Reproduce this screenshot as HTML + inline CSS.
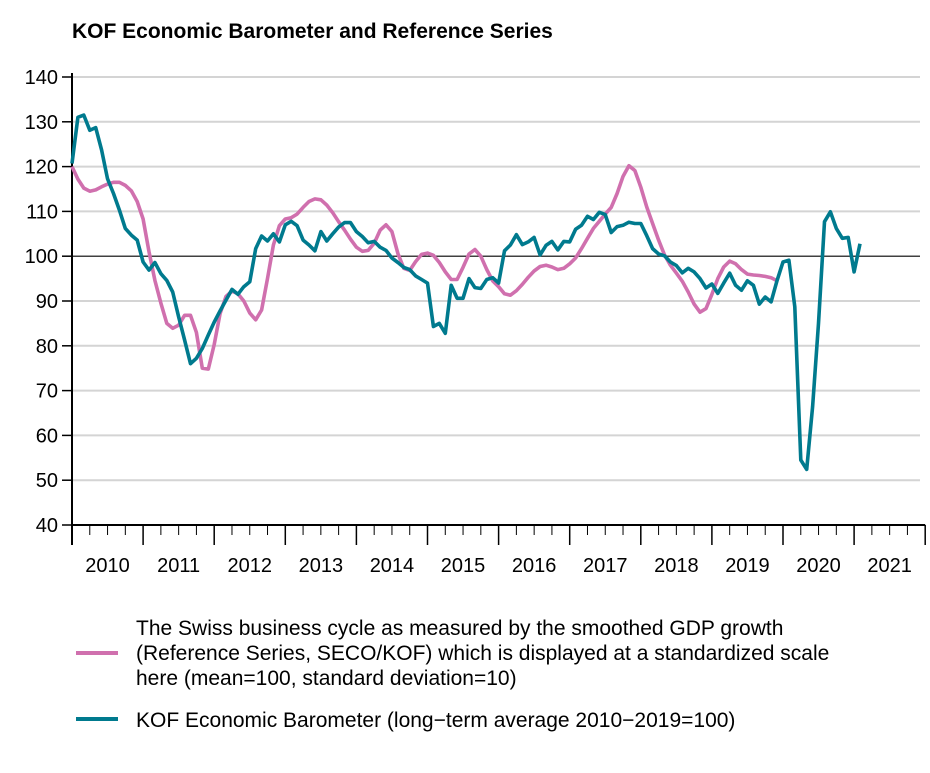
<!DOCTYPE html>
<html><head><meta charset="utf-8"><style>
body{margin:0;background:#fff;}
svg text{font-family:"Liberation Sans",Arial,sans-serif;fill:#000;}
</style></head><body>
<svg id="chart" width="930" height="768" xmlns="http://www.w3.org/2000/svg">
<text x="72" y="38" font-size="21" font-weight="bold">KOF Economic Barometer and Reference Series</text>
<g id="grid"></g>
<g id="axes"></g>
<g id="series"></g>
<g>
<line x1="76" y1="653" x2="118" y2="653" stroke="#d070ae" stroke-width="4"/>
<text font-size="21" x="136" y="635">The Swiss business cycle as measured by the smoothed GDP growth</text>
<text font-size="21" x="136" y="660">(Reference Series, SECO/KOF) which is displayed at a standardized scale</text>
<text font-size="21" x="136" y="685">here (mean=100, standard deviation=10)</text>
<line x1="76" y1="719" x2="118" y2="719" stroke="#007a8e" stroke-width="4"/>
<text font-size="21" x="136" y="727">KOF Economic Barometer (long−term average 2010−2019=100)</text>
</g>
</svg>
<script>
const years=[2010,2011,2012,2013,2014,2015,2016,2017,2018,2019,2020,2021];
const yTicks=[40,50,60,70,80,90,100,110,120,130,140];
const barometer=[120.7,131,131.5,128.1,128.7,123.7,117.3,114,110.3,106.2,104.7,103.6,
98.7,96.9,98.6,96.1,94.6,92,86.5,81.3,76,77.2,79.4,82.4,
85.3,87.8,90.2,92.6,91.5,93.2,94.3,101.7,104.5,103.4,105,103.2,
107,107.8,106.8,103.6,102.5,101.2,105.5,103.4,105,106.5,107.5,107.5,
105.5,104.4,103,103.3,102,101.3,99.6,98.6,97.5,97,95.6,94.8,
94,84.3,85,82.8,93.5,90.6,90.6,95,93,92.8,94.8,95.2,
94,101.2,102.5,104.8,102.6,103.2,104.2,100.3,102.4,103.3,101.4,103.3,
103.2,106,106.9,108.9,108.2,109.8,109.3,105.3,106.6,106.9,107.6,107.3,
107.3,104.6,101.7,100.5,100.1,98.7,97.9,96.3,97.3,96.5,95,92.9,
93.8,91.7,94,96.2,93.5,92.4,94.5,93.5,89.3,90.9,89.8,94.6,
98.7,99.1,88.7,54.5,52.4,66.4,85,107.7,109.9,106.2,104,104.2,
96.5,102.8];
const reference=[120,117.2,115.2,114.5,114.8,115.5,116.1,116.5,116.5,115.8,114.6,112.2,
108.3,101,94.6,89.5,85,83.9,84.6,86.8,86.8,83,75,74.8,
80.3,87.2,91,92.2,91.6,90,87.3,85.8,88,95,102.5,106.8,
108.3,108.6,109.4,110.9,112.2,112.8,112.6,111.4,109.7,107.7,105.8,103.8,
102,101.1,101.3,102.9,105.8,107,105.5,100.6,97.3,96.8,98.8,100.4,
100.7,100.2,98.6,96.5,94.8,94.8,97.5,100.5,101.5,100,97,94.5,
93.2,91.6,91.3,92.3,93.7,95.3,96.7,97.7,98,97.6,97,97.3,
98.3,99.6,101.7,104,106.2,107.8,109.4,110.9,114,117.8,120.2,119.1,
115.4,111,107.3,103.6,100.3,98,96.2,94.4,92,89.3,87.5,88.3,
91.5,95,97.6,98.9,98.3,97,96,95.8,95.7,95.5,95.2,94.5];

const NS="http://www.w3.org/2000/svg";
const X0=72,YW=71.1,YB=525,YT=77;
function xPos(m){return X0+m*YW/12;}
function yPos(v){return YB-(v-40)*(YB-YT)/100;}
function mk(tag,attrs,parent){const e=document.createElementNS(NS,tag);for(const k in attrs)e.setAttribute(k,attrs[k]);parent.appendChild(e);return e;}
const grid=document.getElementById('grid'),axes=document.getElementById('axes'),series=document.getElementById('series');
const xEnd=X0+years.length*YW;
yTicks.forEach(v=>{
  const y=yPos(v);
  if(v>40){
    const g=mk('line',{x1:X0,x2:920,y1:y,y2:y,stroke:v===100?'#000':'#d4d4d4','stroke-width':v===100?1.2:2},grid);
    
    
  }
  const t=mk('line',{x1:62,x2:X0,y1:y,y2:y,stroke:'#000','stroke-width':1.5},axes);
  
  
  const l=mk('text',{x:58,y:y+7,'text-anchor':'end','font-size':20},axes);
  l.textContent=v;
  
  
});
const ya=mk('line',{x1:X0,x2:X0,y1:YT-4,y2:YB+20,stroke:'#000','stroke-width':2},axes);


const xa=mk('line',{x1:X0,x2:xEnd,y1:YB,y2:YB,stroke:'#000','stroke-width':2},axes);


for(let q=0;q<=years.length*4;q++){
  const x=X0+q*YW/4;
  const tk=mk('line',{x1:x,x2:x,y1:YB,y2:YB+(q%4===0?20:10),stroke:'#000','stroke-width':q%4===0?1.5:1},axes);
  
  
}
years.forEach((yr,i)=>{
  const t=mk('text',{x:X0+(i+0.5)*YW,y:572,'text-anchor':'middle','font-size':20},axes);
  t.textContent=yr;
  
  
});
function line(data,color,name){
  const d=data.map((v,i)=>(i?'L':'M')+xPos(i).toFixed(1)+','+yPos(v).toFixed(1)).join('');
  const p=mk('path',{d:d,fill:'none',stroke:color,'stroke-width':3.6,'stroke-linejoin':'round'},series);
  
  
}
line(reference,'#d070ae','reference-series-line');
line(barometer,'#007a8e','kof-barometer-line');
</script>
</body></html>
